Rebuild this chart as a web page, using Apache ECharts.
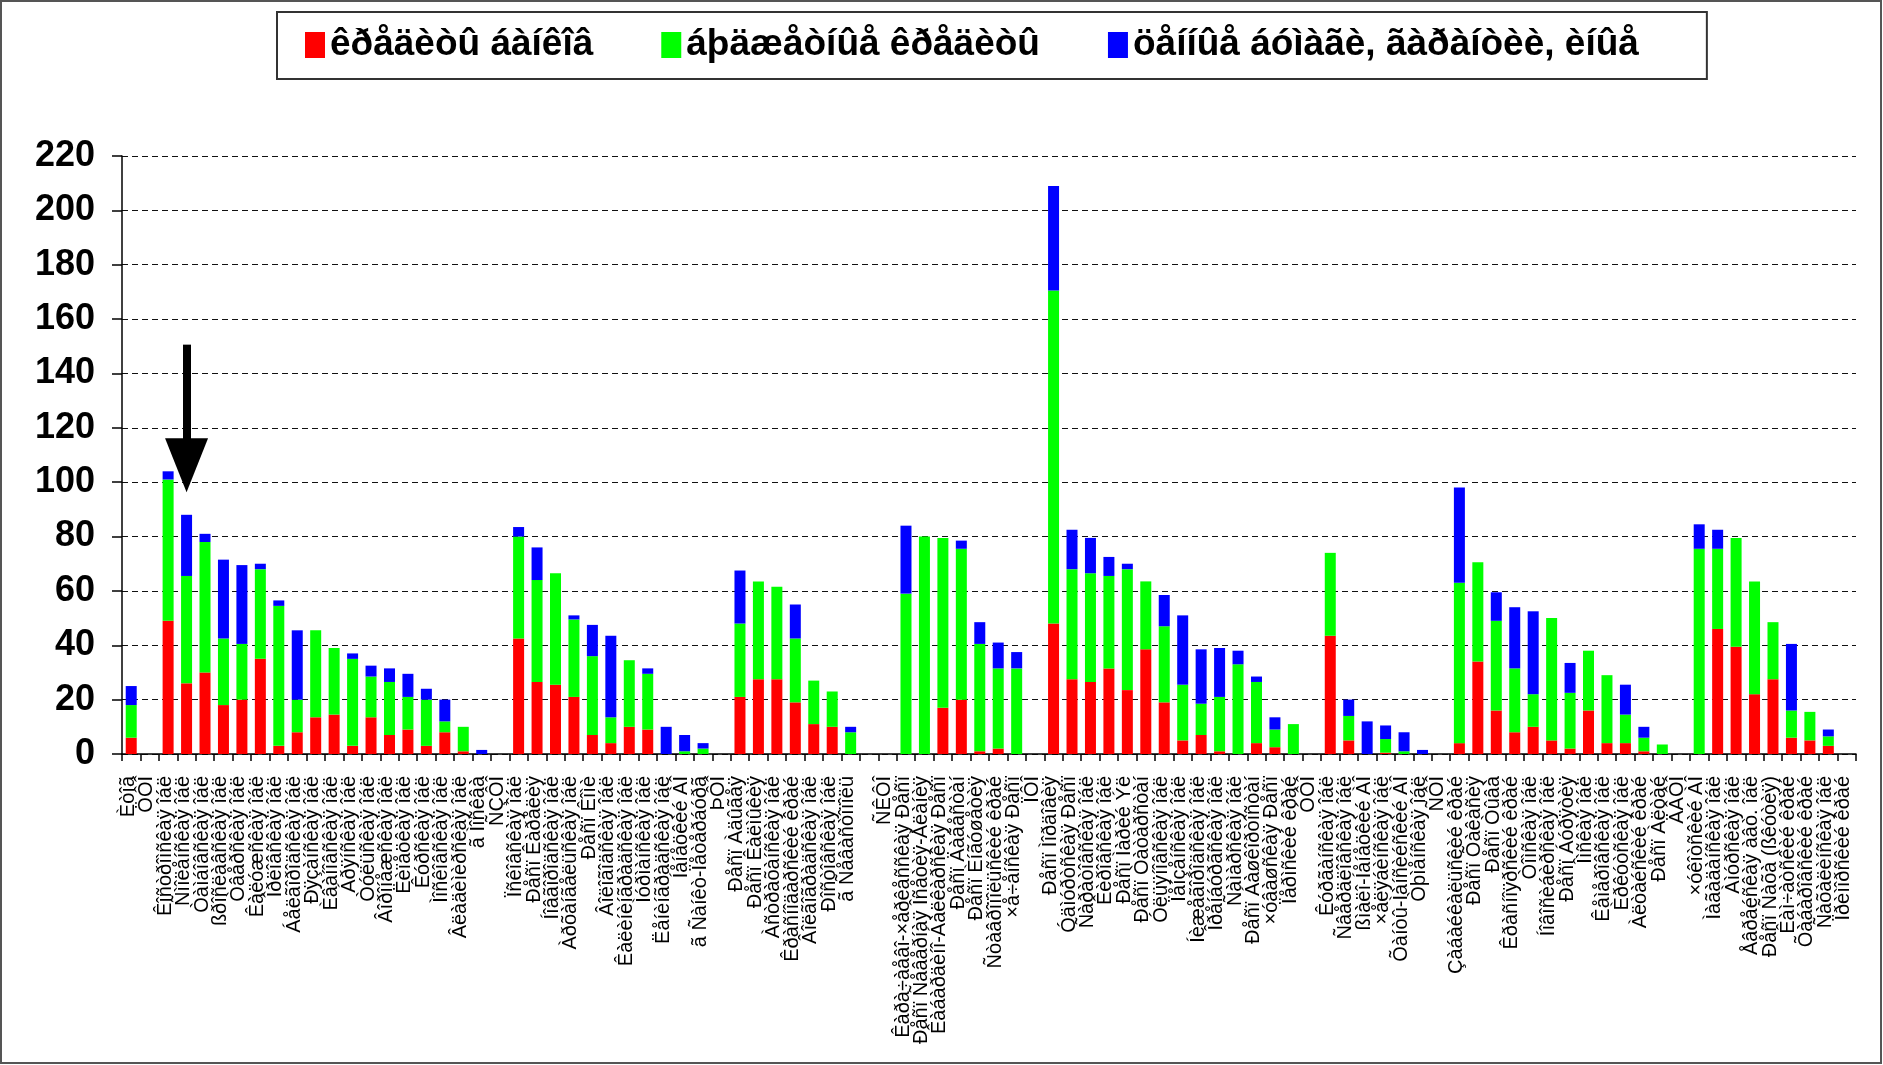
<!DOCTYPE html>
<html>
<head>
<meta charset="utf-8">
<script src="https://cdn.jsdelivr.net/npm/echarts@6/dist/echarts.min.js"></script>
<style>
html,body{margin:0;padding:0;background:#fff;}
#c{width:1883px;height:1065px;}
</style>
</head>
<body>
<div id="c"></div>
<script>
// The source chart shows CP1251 Russian text rendered as Latin-1 (mojibake);
// names are kept in Russian here and rendered the same way the original shows them.
function moj(s){
  return s.replace(/[\u0410-\u044F\u0401\u0451]/g, function(ch){
    var c = ch.charCodeAt(0);
    if (c === 0x401) return '\u00A8';
    if (c === 0x451) return '\u00B8';
    return String.fromCharCode(c - 0x410 + 0xC0);
  });
}

const regions = [
  'Итог','ЦФО',
  'Костромская обл','Смоленская обл','Тамбовская обл','Ярославская обл','Тверская обл','Калужская обл',
  'Орловская обл','Белгородская обл','Рязанская обл','Ивановская обл','Брянская обл','Тульская обл',
  'Воронежская обл','Липецкая обл','Курская обл','Московская обл','Владимирская обл','г Москва',
  'СЗФО',
  'Псковская обл','Респ Карелия','Новгородская обл','Архангельская обл','Респ Коми','Вологодская обл',
  'Калининградская обл','Мурманская обл','Ленинградская обл','Ненецкий АО','г Санкт-Петербург',
  'ЮФО',
  'Респ Адыгея','Респ Калмыкия','Астраханская обл','Краснодарский край','Волгоградская обл','Ростовская обл','г Севастополь',
  '',
  'СКФО',
  'Карачаево-Черкесская Респ','Респ Северная Осетия-Алания','Кабардино-Балкарская Респ','Респ Дагестан',
  'Респ Ингушетия','Ставропольский край','Чеченская Респ',
  'ПФО',
  'Респ Мордовия','Удмуртская Респ','Саратовская обл','Кировская обл','Респ Марий Эл','Респ Татарстан',
  'Ульяновская обл','Пензенская обл','Нижегородская обл','Оренбургская обл','Самарская обл',
  'Респ Башкортостан','Чувашская Респ','Пермский край',
  'УФО',
  'Курганская обл','Свердловская обл','Ямало-Ненецкий АО','Челябинская обл','Ханты-Мансийский АО','Тюменская обл',
  'СФО',
  'Забайкальский край','Респ Хакасия','Респ Тыва','Красноярский край','Томская обл','Новосибирская обл',
  'Респ Бурятия','Омская обл','Кемеровская обл','Иркутская обл','Алтайский край','Респ Алтай',
  'ДВФО',
  'Чукотский АО','Магаданская обл','Амурская обл','Еврейская авт. обл','Респ Саха (Якутия)',
  'Камчатский край','Хабаровский край','Сахалинская обл','Приморский край'
];

const seriesNames = ['кредиты банков','бюджетные кредиты','ценные бумаги, гарантии, иные'];

const bankLoans = [
  6,0,
  49,26,30,18,20,35,3,8,13.5,14.5,3,13.5,7,9,3,8,1,0,
  0,
  42.5,26.5,25.5,21,7,4,10,9,0,0,0,
  0,
  21,27.5,27.5,19,11,10,0,
  0,
  0,
  0,0,17,20,1,2,0,
  0,
  48,27.5,26.5,31.5,23.5,38.5,19,5,7,1,0,4,2.5,0,
  0,
  43.5,5,0,0.5,0,0,
  0,
  4,34,16,8,10,5,2,16,4,4,1,0,
  0,
  0,46,39.5,22,27.5,6,5,3,0
];

const budgetLoans = [
  12,0,
  52,39.5,48,24.5,20.5,33,51.5,12,32,24.5,32,15,19.5,12,17,4,9,0,
  0,
  37.5,37.5,41,28.5,29,9.5,24.5,20.5,0,1,2,
  0,
  27,36,34,23.5,16,13,8,
  0,
  0,
  59,80,62.5,55.5,39.5,29.5,31.5,
  0,
  122.5,40.5,40,34,44.5,25,28,20.5,11.5,20,33,22.5,6.5,11,
  0,
  30.5,9,0,5,1,0,
  0,
  59,36.5,33,23.5,12,45,20.5,22,25,10.5,5,3.5,
  0,
  75.5,29.5,40,41.5,21,10,10.5,3.5,0
];

const otherDebt = [
  7,0,
  3,22.5,3,29,29,2,2,25.5,0,0,2,4,5,8.5,4,8,0,1.5,
  0,
  3.5,12,0,1.5,11.5,30,0,2,10,6,2,
  0,
  19.5,0,0,12.5,0,0,2,
  0,
  0,
  25,0,0,3,8,9.5,6,
  0,
  38.5,14.5,13,7,2,0,11.5,25.5,20,18,5,2,4.5,0,
  0,
  0,6,12,5,7,1.5,
  0,
  35,0,10.5,22.5,30.5,0,11,0,0,11,4,0,
  0,
  9,7,0,0,0,24.5,0,2.5,0
];

const yTicks = {min: 0, max: 220, step: 20};
// arrow annotation: shaft top and arrow-head centre, in axis units, over category index 3
const arrowCat = 3;
const arrowFrom = 150.6;
const arrowTo = 106.2;

const labels = regions.map(moj);
const FONT = "'Liberation Sans', Arial, sans-serif";
const LABEL_FONT = "20px 'Liberation Sans', Arial, sans-serif";

const chart = echarts.init(document.getElementById('c'), null, {renderer: 'canvas'});
chart.setOption({
  animation: false,
  backgroundColor: '#ffffff',
  textStyle: {fontFamily: FONT},
  graphic: [{
    type: 'rect', silent: true,
    shape: {x: 1, y: 1, width: 1880, height: 1062},
    style: {fill: 'none', stroke: '#555', lineWidth: 2}
  }],
  legend: {
    left: 277, top: 12,
    orient: 'horizontal',
    icon: 'rect',
    itemWidth: 20, itemHeight: 26,
    itemGap: 68,
    padding: [13, 68, 14, 28],
    borderColor: '#333', borderWidth: 2,
    textStyle: {fontSize: 37, fontWeight: 'bold', color: '#000', fontFamily: FONT, lineHeight: 40},
    data: seriesNames.map(moj)
  },
  grid: {left: 122, right: 27, top: 156, bottom: 311},
  xAxis: {
    type: 'category',
    data: labels,
    boundaryGap: true,
    axisLine: {show: true, lineStyle: {color: '#000', width: 1.5}},
    axisTick: {show: true, interval: 0, length: 7, alignWithLabel: false, lineStyle: {color: '#000', width: 1.5}},
    axisLabel: {show: false},
    splitLine: {show: false}
  },
  yAxis: {
    type: 'value',
    min: yTicks.min, max: yTicks.max, interval: yTicks.step,
    axisLine: {show: true, lineStyle: {color: '#000', width: 1.5}},
    axisTick: {show: true, length: 10, lineStyle: {color: '#000', width: 1.5}},
    axisLabel: {fontSize: 36, fontWeight: 'bold', color: '#000', margin: 27, fontFamily: FONT},
    splitLine: {show: true, lineStyle: {color: '#111', width: 1.2, type: [6, 4]}}
  },
  series: [
    {name: moj(seriesNames[0]), type: 'bar', stack: 'debt', barWidth: 11, data: bankLoans,
     itemStyle: {color: '#ff0000'}},
    {name: moj(seriesNames[1]), type: 'bar', stack: 'debt', barWidth: 11, data: budgetLoans,
     itemStyle: {color: '#00ff00'}},
    {name: moj(seriesNames[2]), type: 'bar', stack: 'debt', barWidth: 11, data: otherDebt,
     itemStyle: {color: '#0000ff'},
     markLine: {
       silent: true,
       symbol: ['none', 'triangle'],
       symbolSize: [43, 54],
       label: {show: false},
       lineStyle: {color: '#000', width: 8, type: 'solid'},
       emphasis: {disabled: true},
       data: [[{coord: [arrowCat, arrowFrom]}, {coord: [arrowCat, arrowTo]}]]
     }},
    {
      // category tick labels, vertical (bottom-to-top), placed with the category axis scale
      name: 'categoryLabels',
      type: 'custom',
      silent: true,
      clip: false,
      z: 10,
      encode: {x: 0, y: 1},
      data: labels.map(function (l, i) { return [i, 0]; }),
      renderItem: function (params, api) {
        var i = api.value(0);
        var p = api.coord([i, 0]);
        return {
          type: 'text',
          x: p[0] - 3,
          y: p[1] + 22,
          rotation: Math.PI / 2,
          silent: true,
          style: {
            text: labels[i],
            font: LABEL_FONT,
            fill: '#000',
            align: 'right',
            verticalAlign: 'middle'
          }
        };
      }
    }
  ]
});
</script>
</body>
</html>
